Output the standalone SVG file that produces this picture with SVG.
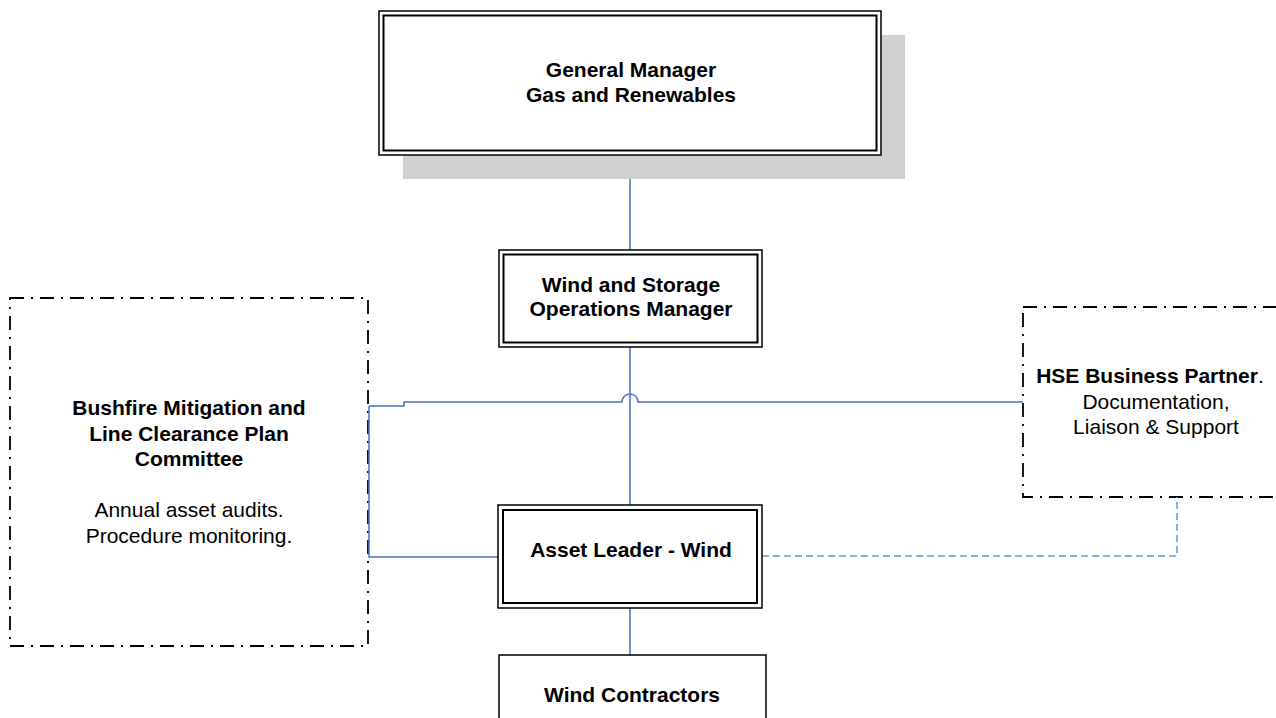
<svg xmlns="http://www.w3.org/2000/svg" width="1276" height="718" viewBox="0 0 1276 718">
<style>
.outer{fill:#fff;stroke:#000;stroke-width:1.5}
.inner{fill:none;stroke:#000;stroke-width:2}
.dd{fill:#fff;stroke:#000;stroke-width:1.8;stroke-dasharray:14 7 2 7}
.b{font-family:"Liberation Sans",Arial,sans-serif;font-weight:bold;font-size:21px;text-anchor:middle;fill:#000}
.n{font-family:"Liberation Sans",Arial,sans-serif;font-size:21px;text-anchor:middle;fill:#000}
.c{fill:none;stroke:#4472C4;stroke-width:1.5}
.cd{fill:none;stroke:#5B9BD5;stroke-width:1.5;stroke-dasharray:7 4}
</style>
<rect width="1276" height="718" fill="#fff"/>
<g id="bushfire">
<rect class="dd" x="10" y="298" width="358" height="348"/>
<text class="b" x="189" y="415">Bushfire Mitigation and</text>
<text class="b" x="189" y="441">Line Clearance Plan</text>
<text class="b" x="189" y="466">Committee</text>
<text class="n" x="189" y="517">Annual asset audits.</text>
<text class="n" x="189" y="543">Procedure monitoring.</text>
</g>
<g id="hse">
<rect class="dd" x="1023" y="307" width="270" height="190"/>
<text class="b" x="1150" y="383">HSE Business Partner<tspan font-weight="normal">.</tspan></text>
<text class="n" x="1156" y="409">Documentation,</text>
<text class="n" x="1156" y="434">Liaison &amp; Support</text>
</g>
<g id="connectors">
<line class="c" x1="630" y1="155" x2="630" y2="250"/>
<line class="c" x1="630" y1="347" x2="630" y2="505"/>
<path class="c" d="M369,406 H404 V402 H622 A8,8 0 0 1 638,402 H1023"/>
<path class="c" d="M369,406 V557 H498"/>
<line class="c" x1="630" y1="608" x2="630" y2="655"/>
<path class="cd" d="M762,556 H1177 V497"/>
</g>
<g id="gm">
<rect x="403" y="35" width="502" height="144" fill="#d0d0d0"/>
<rect class="outer" x="379" y="11" width="502" height="144"/>
<rect class="inner" x="383.5" y="15.5" width="493" height="135"/>
<text class="b" x="631" y="77">General Manager</text>
<text class="b" x="631" y="102">Gas and Renewables</text>
</g>
<g id="wsom">
<rect class="outer" x="499" y="250" width="263" height="97"/>
<rect class="inner" x="503.5" y="254.5" width="254" height="88"/>
<text class="b" x="631" y="292">Wind and Storage</text>
<text class="b" x="631" y="316">Operations Manager</text>
</g>
<g id="assetleader">
<rect class="outer" x="498" y="505" width="264" height="103"/>
<rect class="inner" x="503" y="510" width="254" height="93" stroke-width="2.5"/>
<text class="b" x="631" y="557">Asset Leader - Wind</text>
</g>
<g id="contractors">
<rect class="outer" x="499" y="655" width="267" height="70"/>
<text class="b" x="632" y="702">Wind Contractors</text>
</g>
</svg>
